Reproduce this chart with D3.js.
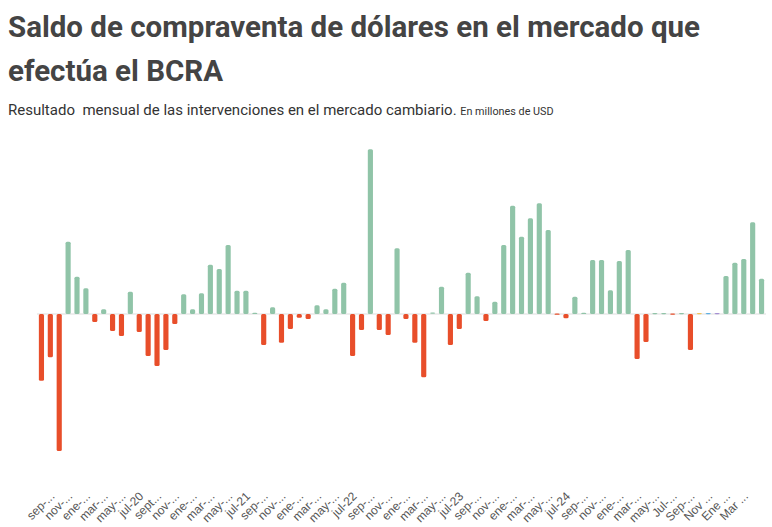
<!DOCTYPE html>
<html lang="es">
<head>
    <meta charset="UTF-8">
    <title>Saldo de compraventa de dólares BCRA</title>
    <script src="https://d3js.org/d3.v7.min.js"></script>
    <style>
        body {
            margin: 0;
            background: #fff;
            font-family: Roboto, "Noto Sans", sans-serif;
        }
        svg { display: block; }
        .title { font-size: 29.5px; font-weight: 700; fill: #444; }
        .subtitle { font-size: 15px; fill: #333; }
        .subtitle .small { font-size: 10.8px; }
        .tick text { font-size: 12px; fill: #555; }
    </style>
</head>
<body>
<script>
    // meses: ago-19 a may-26
    const months = [
        "ago-19","sep-19","oct-19","nov-19","dic-19",
        "ene-20","feb-20","mar-20","abr-20","may-20","jun-20","jul-20","ago-20","sep-20","oct-20","nov-20","dic-20",
        "ene-21","feb-21","mar-21","abr-21","may-21","jun-21","jul-21","ago-21","sep-21","oct-21","nov-21","dic-21",
        "ene-22","feb-22","mar-22","abr-22","may-22","jun-22","jul-22","ago-22","sep-22","oct-22","nov-22","dic-22",
        "ene-23","feb-23","mar-23","abr-23","may-23","jun-23","jul-23","ago-23","sep-23","oct-23","nov-23","dic-23",
        "ene-24","feb-24","mar-24","abr-24","may-24","jun-24","jul-24","ago-24","sep-24","oct-24","nov-24","dic-24",
        "ene-25","feb-25","mar-25","abr-25","may-25","jun-25","jul-25","ago-25","sep-25","oct-25","nov-25","dic-25",
        "ene-26","feb-26","mar-26","abr-26","may-26"
    ];

    // saldo mensual, millones de USD
    const saldo = [
        -2000, -1300, -4110, 2170, 1120,
        770, -240, 140, -510, -660, 670, -540, -1260, -1560, -1080, -300,
        590, 140, 620, 1480, 1350, 2070, 700, 700, 20, -930, 200, -860,
        -450, -110, -150, 260, 140, 760, 940, -1260, -480, 4940, -480, -630,
        1970, -150, -860, -1900, 30, 820, -930, -450, 1240, 530, -210, 370,
        2070, 3250, 2320, 2870, 3320, 2520, -40, -130, 520, 20, 1620, 1620,
        710, 1590, 1920, -1350, -840, 15, 15, -15, 15, -1080, 15, 15,
        15, 1140, 1540, 1650, 2750, 1060
    ];

    // etiquetas del eje (meses impares, como en el original)
    const tickLabels = {
        "sep-19": "sep-...", "nov-19": "nov-...", "ene-20": "ene-...", "mar-20": "mar-...",
        "may-20": "may-...", "jul-20": "jul-20", "sep-20": "sept...", "nov-20": "nov-...",
        "ene-21": "ene-...", "mar-21": "mar-...", "may-21": "may-...", "jul-21": "jul-21",
        "sep-21": "sep-...", "nov-21": "nov-...", "ene-22": "ene-...", "mar-22": "mar-...",
        "may-22": "may-...", "jul-22": "jul-22", "sep-22": "sep-...", "nov-22": "nov-...",
        "ene-23": "ene-...", "mar-23": "mar-...", "may-23": "may-...", "jul-23": "jul-23",
        "sep-23": "sep-...", "nov-23": "nov-...", "ene-24": "ene-...", "mar-24": "mar-...",
        "may-24": "may-...", "jul-24": "jul-24", "sep-24": "sep-...", "nov-24": "nov-...",
        "ene-25": "ene-...", "mar-25": "mar-...", "may-25": "may-...", "jul-25": "Jul-...",
        "sep-25": "Sep-...", "nov-25": "Nov ...", "ene-26": "Ene ...", "mar-26": "Mar ..."
    };

    // barras casi nulas con color propio en el original
    const specialColors = { "oct-25": "#f2c55c", "nov-25": "#5fb0e3", "dic-25": "#a48ed2" };

    const width = 772, height = 527;
    const green = "#90c4a8", red = "#e84e2a";

    const svg = d3.select("body").append("svg")
        .attr("width", width)
        .attr("height", height);

    // title
    svg.append("text").attr("class", "title").attr("x", 8).attr("y", 37)
        .text("Saldo de compraventa de dólares en el mercado que");
    svg.append("text").attr("class", "title").attr("x", 8).attr("y", 81)
        .text("efectúa el BCRA");

    const sub = svg.append("text").attr("class", "subtitle").attr("x", 8).attr("y", 115);
    sub.append("tspan").text("Resultado \u00a0mensual de las intervenciones en el mercado cambiario. ");
    sub.append("tspan").attr("class", "small").text("En millones de USD");

    const x = d3.scaleBand()
        .domain(months)
        .range([37, 766])
        .paddingInner(0.42)
        .paddingOuter(0.21);

    const y = d3.scaleLinear()
        .domain([-5000, 5000])
        .range([314 + 5000 / 30, 314 - 5000 / 30]);

    // zero line
    svg.append("line")
        .attr("x1", 37).attr("x2", 766)
        .attr("y1", y(0)).attr("y2", y(0))
        .attr("stroke", "#ddd")
        .attr("stroke-width", 1);

    const data = months.map((m, i) => ({ m: m, v: saldo[i] }));

    svg.append("g").selectAll("rect")
        .data(data)
        .join("rect")
        .attr("x", d => x(d.m))
        .attr("width", x.bandwidth())
        .attr("y", d => Math.min(y(0), y(d.v)) - (Math.abs(d.v) < 50 ? 0.5 : 0))
        .attr("height", d => Math.max(Math.abs(y(d.v) - y(0)), 1.2))
        .attr("rx", 1.5)
        .attr("fill", d => specialColors[d.m] || (d.v >= 0 ? green : red));

    // x axis labels
    const xAxis = d3.axisBottom(x)
        .tickValues(months.filter(m => tickLabels[m]))
        .tickFormat(m => tickLabels[m])
        .tickSize(0)
        .tickPadding(0);

    const gx = svg.append("g")
        .attr("transform", "translate(2,494)")
        .call(xAxis);
    gx.select(".domain").remove();
    gx.selectAll(".tick text")
        .attr("text-anchor", "end")
        .attr("dy", "0.35em")
        .attr("y", 0)
        .attr("transform", "rotate(-45)");
</script>
</body>
</html>
